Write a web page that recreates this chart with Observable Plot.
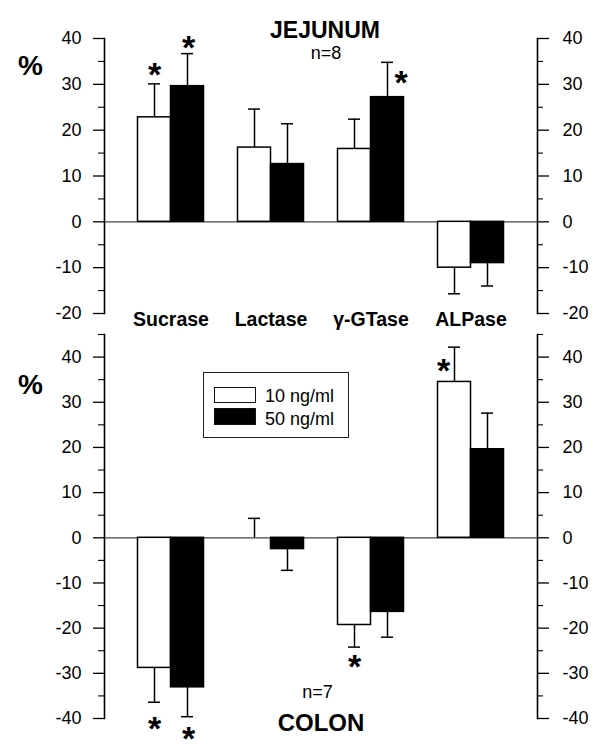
<!DOCTYPE html>
<html><head><meta charset="utf-8">
<script src="https://cdn.jsdelivr.net/npm/d3@7"></script>
<script src="https://cdn.jsdelivr.net/npm/@observablehq/plot@0.6"></script>
<style>
body{margin:0;background:#fff;}
#chart{position:relative;width:600px;height:744px;font-family:"Liberation Sans",Arial,sans-serif;color:#000;}
#chart svg{display:block;overflow:visible;background:transparent;}
.legend{position:absolute;left:203px;top:372px;width:144px;height:64px;border:1.3px solid #222;background:#fff;}
.legend .sw{position:absolute;left:10px;width:42px;border:1.3px solid #111;box-sizing:border-box;}
.legend .lab{position:absolute;left:61px;font-size:18px;line-height:18px;}
</style></head><body><div id="chart"></div>
<script>
const enzymes = ["Sucrase", "Lactase", "γ-GTase", "ALPase"];
const doses = ["10 ng/ml", "50 ng/ml"];

const jejunum10 = [22.8, 16.2, 15.9, -10.0];
const jejunum10Err = [7.3, 8.4, 6.5, 5.7];
const jejunum50 = [29.6, 12.6, 27.2, -9.0];
const jejunum50Err = [7.1, 8.8, 7.6, 5.0];

const colon10 = [-28.8, 0.0, -19.3, 34.5];
const colon10Err = [7.6, 4.3, 4.9, 7.7];
const colon50 = [-33.1, -2.5, -16.4, 19.6];
const colon50Err = [6.5, 4.7, 5.6, 8.0];

const jejunumTicks = [-20, -10, 0, 10, 20, 30, 40];
const jejunumMinor = [-15, -5, 5, 15, 25, 35];
const colonTicks = [-40, -30, -20, -10, 0, 10, 20, 30, 40];
const colonMinor = [-35, -25, -15, -5, 5, 15, 25, 35, 45];

// significance asterisks: enzyme, dose, level (in %)
const jejunumStars = [
  {enzyme: "Sucrase", dose: "10 ng/ml", level: 33.0, side: "over"},
  {enzyme: "Sucrase", dose: "50 ng/ml", level: 39.1, side: "over"},
  {enzyme: "γ-GTase", dose: "50 ng/ml", level: 31.3, side: "beside"}
];
const colonStars = [
  {enzyme: "Sucrase", dose: "10 ng/ml", level: -41.2, side: "over"},
  {enzyme: "Sucrase", dose: "50 ng/ml", level: -43.4, side: "over"},
  {enzyme: "γ-GTase", dose: "10 ng/ml", level: -27.5, side: "over"},
  {enzyme: "ALPase", dose: "10 ng/ml", level: 38.0, side: "beside"}
];

function rows(vals, errs) {
  return enzymes.map((e, i) => ({
    enzyme: e, value: vals[i], err: errs[i],
    end: vals[i] >= 0 ? vals[i] + errs[i] : vals[i] - errs[i]
  }));
}

const FONT = "Liberation Sans, Arial, sans-serif";
const half = 33;
const fmt = d => String(d);

function panel(o) {
  const d10 = rows(o.v10, o.e10), d50 = rows(o.v50, o.e50);
  const starMarks = [];
  const st = {text: () => "*", fontSize: 34, fontWeight: "bold", dy: 5};
  const s = o.stars;
  const f = (dose, side) => s.filter(d => d.dose === dose && d.side === side);
  starMarks.push(Plot.text(f(doses[0], "over"), {x: "enzyme", y: "level", dx: -16.5, ...st}));
  starMarks.push(Plot.text(f(doses[1], "over"), {x: "enzyme", y: "level", dx: 17.5, ...st}));
  starMarks.push(Plot.text(f(doses[1], "beside"), {x: "enzyme", y: "level", dx: 30, ...st}));
  starMarks.push(Plot.text(f(doses[0], "beside"), {x: "enzyme", y: "level", dx: -27.5, ...st}));
  return Plot.plot({
    width: 600, height: o.height,
    marginLeft: 104, marginRight: 63, marginTop: o.marginTop, marginBottom: o.marginBottom,
    style: {fontFamily: FONT, fontSize: "18px", color: "black", background: "transparent", overflow: "visible"},
    x: {domain: enzymes, paddingInner: 0.34, paddingOuter: 0.335, round: false, axis: null},
    y: {domain: o.domain, axis: null},
    marks: [
      Plot.ruleY([0], {stroke: "#444", strokeWidth: 1.2}),
      Plot.barY(d10, {x: "enzyme", y1: 0, y2: "value", fill: "white", stroke: "black", strokeWidth: 1.5, insetRight: half}),
      Plot.barY(d50, {x: "enzyme", y1: 0, y2: "value", fill: "black", stroke: "black", strokeWidth: 1.5, insetLeft: half}),
      Plot.ruleX(d10, {x: "enzyme", y1: "value", y2: "end", dx: -16.5, strokeWidth: 1.5}),
      Plot.ruleX(d50, {x: "enzyme", y1: "value", y2: "end", dx: 16.5, strokeWidth: 1.5}),
      Plot.tickY(d10, {x: "enzyme", y: "end", insetLeft: 10.5, insetRight: 43.5, strokeWidth: 1.5}),
      Plot.tickY(d50, {x: "enzyme", y: "end", insetLeft: 43.5, insetRight: 10.5, strokeWidth: 1.5}),
      Plot.frame({anchor: "left", strokeWidth: 1.6}),
      Plot.frame({anchor: "right", strokeWidth: 1.6}),
      Plot.axisY({anchor: "left", ticks: o.ticks, tickSize: 11, tickPadding: 12, fontSize: 18, strokeWidth: 1.3, tickFormat: fmt}),
      Plot.axisY({anchor: "left", ticks: o.minor, tickSize: 6, tickFormat: () => "", strokeWidth: 1.1}),
      Plot.axisY({anchor: "right", ticks: o.ticks, tickSize: 11, tickPadding: 14, fontSize: 18, strokeWidth: 1.3, tickFormat: fmt}),
      Plot.axisY({anchor: "right", ticks: o.minor, tickSize: 5, tickFormat: () => "", strokeWidth: 1.1}),
      ...starMarks,
      ...o.extra
    ]
  });
}

const topPanel = panel({
  height: 330, marginTop: 38, marginBottom: 17, domain: [-20, 40],
  ticks: jejunumTicks, minor: jejunumMinor,
  v10: jejunum10, e10: jejunum10Err, v50: jejunum50, e50: jejunum50Err,
  stars: jejunumStars,
  extra: [
    Plot.text(["JEJUNUM"], {frameAnchor: "top", dx: 4, dy: -17, fontSize: 23, fontWeight: "bold"}),
    Plot.text(["n=8"], {frameAnchor: "top", dx: 5, dy: 8, fontSize: 18}),
    Plot.text(["%"], {frameAnchor: "top-left", textAnchor: "middle", dx: -74, dy: 17, fontSize: 28, fontWeight: "bold"}),
    Plot.text(enzymes, {x: d => d, frameAnchor: "bottom", dy: 12, fontSize: 19.5, fontWeight: "bold"})
  ]
});

const bottomPanel = panel({
  height: 414, marginTop: 4, marginBottom: 26, domain: [-40, 45],
  ticks: colonTicks, minor: colonMinor,
  v10: colon10, e10: colon10Err, v50: colon50, e50: colon50Err,
  stars: colonStars,
  extra: [
    Plot.text(["%"], {frameAnchor: "top-left", textAnchor: "middle", dx: -74, dy: 40, fontSize: 28, fontWeight: "bold"}),
    Plot.text(["n=7"], {frameAnchor: "bottom", dx: -3.5, dy: -21, fontSize: 18}),
    Plot.text(["COLON"], {frameAnchor: "bottom", dx: 0, dy: 12, fontSize: 24, fontWeight: "bold"})
  ]
});

const chart = document.getElementById("chart");
chart.appendChild(topPanel);
chart.appendChild(bottomPanel);

const legend = document.createElement("div");
legend.className = "legend";
const colors = ["#fff", "#000"];
const swTop = [14, 35], swH = [16, 17], labTop = [14, 37];
doses.forEach((d, i) => {
  const sw = document.createElement("div");
  sw.className = "sw";
  sw.style.top = swTop[i] + "px";
  sw.style.height = swH[i] + "px";
  sw.style.background = colors[i];
  legend.appendChild(sw);
  const lab = document.createElement("div");
  lab.className = "lab";
  lab.style.top = labTop[i] + "px";
  lab.textContent = d;
  legend.appendChild(lab);
});
chart.appendChild(legend);
</script>
</body></html>
